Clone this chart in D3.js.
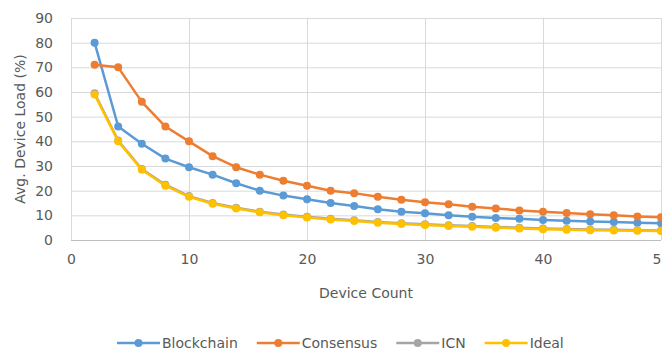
<!DOCTYPE html>
<html>
<head>
<meta charset="utf-8">
<script src="https://cdn.jsdelivr.net/npm/d3@7"></script>
<style>
  html, body { margin: 0; padding: 0; background: #fff; }
  svg { display: block; font-family: "DejaVu Sans", sans-serif; }
</style>
</head>
<body>
<svg id="chart" width="662" height="351"></svg>
<script>
// Device counts on the x axis
const deviceCount = [2, 4, 6, 8, 10, 12, 14, 16, 18, 20, 22, 24, 26, 28, 30, 32, 34, 36, 38, 40, 42, 44, 46, 48, 50];

// Average device load (%) per approach
const blockchain = [80, 46, 39, 33, 29.5, 26.5, 23, 20, 18, 16.5, 15, 13.8, 12.5, 11.5, 10.8, 10, 9.4, 8.9, 8.6, 8.1, 7.8, 7.5, 7.3, 7.0, 6.8];
const consensus  = [71, 70, 56, 46, 40, 34, 29.5, 26.5, 24, 22, 20, 19, 17.5, 16.3, 15.3, 14.5, 13.5, 12.8, 12, 11.5, 10.9, 10.4, 10, 9.5, 9.2];
const icn        = [59.5, 40.3, 28.8, 22.4, 17.8, 15, 13.1, 11.5, 10.3, 9.4, 8.6, 8.0, 7.3, 6.8, 6.4, 6.0, 5.7, 5.3, 5.0, 4.7, 4.5, 4.3, 4.2, 4.0, 3.9];
const ideal      = [59, 40, 28.5, 22, 17.5, 14.7, 12.8, 11.2, 10, 9.1, 8.3, 7.7, 7.0, 6.5, 6.1, 5.7, 5.4, 5.0, 4.7, 4.4, 4.2, 4.0, 3.9, 3.7, 3.6];

const seriesNames = ["Blockchain", "Consensus", "ICN", "Ideal"];
const seriesValues = [blockchain, consensus, icn, ideal];
const seriesColors = ["#5B9BD5", "#ED7D31", "#A5A5A5", "#FFC000"];

const xTicks = [0, 10, 20, 30, 40, 50];
const yTicks = [0, 10, 20, 30, 40, 50, 60, 70, 80, 90];

const svg = d3.select("#chart");
const plot = { left: 71, right: 661, top: 18, bottom: 240 };

const x = d3.scaleLinear().domain([0, 50]).range([plot.left, plot.right]);
const y = d3.scaleLinear().domain([0, 90]).range([plot.bottom, plot.top]);

const textColor = "#595959";
const gridColor = "#d9d9d9";

// Horizontal gridlines
const yAxis = d3.axisLeft(y).tickValues(yTicks).tickSize(-(plot.right - plot.left)).tickPadding(18).tickFormat(d3.format("d"));
const gy = svg.append("g").attr("transform", `translate(${plot.left},0)`).call(yAxis);
gy.select(".domain").remove();
gy.selectAll(".tick line").attr("stroke", gridColor).attr("stroke-width", 1);
gy.selectAll(".tick text").attr("fill", textColor).attr("font-size", 14).attr("font-family", "DejaVu Sans");

// Vertical gridlines
const xAxis = d3.axisBottom(x).tickValues(xTicks).tickSize(-(plot.bottom - plot.top)).tickPadding(14).tickFormat(d3.format("d"));
const gx = svg.append("g").attr("transform", `translate(0,${plot.bottom})`).call(xAxis);
gx.select(".domain").remove();
gx.selectAll(".tick line").attr("stroke", gridColor).attr("stroke-width", 1);
gx.selectAll(".tick text").attr("fill", textColor).attr("font-size", 14).attr("font-family", "DejaVu Sans");

// Axis baseline
svg.append("line")
  .attr("x1", plot.left).attr("x2", plot.right)
  .attr("y1", y(0) + 0.5).attr("y2", y(0) + 0.5)
  .attr("stroke", "#bfbfbf").attr("stroke-width", 1);

// Series lines with markers
const line = d3.line().x((d, i) => x(deviceCount[i])).y(d => y(d));
seriesValues.forEach((vals, s) => {
  const g = svg.append("g");
  g.append("path")
    .datum(vals)
    .attr("d", line)
    .attr("fill", "none")
    .attr("stroke", seriesColors[s])
    .attr("stroke-width", 2.5)
    .attr("stroke-linejoin", "round");
  g.selectAll("circle")
    .data(vals)
    .join("circle")
    .attr("cx", (d, i) => x(deviceCount[i]))
    .attr("cy", d => y(d))
    .attr("r", 4)
    .attr("fill", seriesColors[s]);
});

// Axis titles
svg.append("text")
  .attr("x", (plot.left + plot.right) / 2)
  .attr("y", 298)
  .attr("text-anchor", "middle")
  .attr("fill", textColor)
  .attr("font-size", 14)
  .text("Device Count");

svg.append("text")
  .attr("transform", `translate(25,${(plot.top + plot.bottom) / 2}) rotate(-90)`)
  .attr("text-anchor", "middle")
  .attr("fill", textColor)
  .attr("font-size", 14)
  .text("Avg. Device Load (%)");

// Legend
const legend = svg.append("g");
let cursor = 0;
seriesNames.forEach((name, s) => {
  const item = legend.append("g").attr("transform", `translate(${cursor},0)`);
  item.append("line").attr("x1", 0).attr("x2", 43).attr("y1", 0).attr("y2", 0)
    .attr("stroke", seriesColors[s]).attr("stroke-width", 2.5);
  item.append("circle").attr("cx", 21.5).attr("cy", 0).attr("r", 4).attr("fill", seriesColors[s]);
  const t = item.append("text").attr("x", 45).attr("y", 5)
    .attr("fill", textColor).attr("font-size", 14).text(name);
  cursor += 45 + t.node().getComputedTextLength() + 19;
});
const legendWidth = cursor - 19;
legend.attr("transform", `translate(${Math.round(340 - legendWidth / 2)},343)`);
</script>
</body>
</html>
